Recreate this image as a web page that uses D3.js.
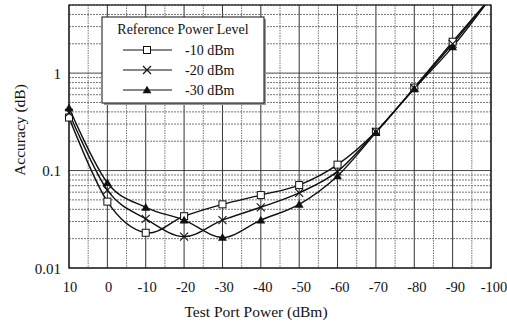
<!DOCTYPE html>
<html>
<head>
<meta charset="utf-8">
<script src="https://cdn.jsdelivr.net/npm/d3@7"></script>
<style>
  body { margin: 0; background: #fff; }
  text { font-family: "Liberation Serif", "Times New Roman", serif; fill: #111; }
</style>
</head>
<body>
<div id="chart"></div>
<script>
// chart values
var powers = [10, 0, -10, -20, -30, -40, -50, -60, -70, -80, -90, -100];
var ref10 = [0.35, 0.048, 0.023, 0.034, 0.045, 0.056, 0.071, 0.115, 0.25, 0.71, 2.1, 6.0];
var ref20 = [0.39, 0.063, 0.032, 0.021, 0.031, 0.042, 0.059, 0.098, 0.25, 0.70, 2.0, 6.0];
var ref30 = [0.44, 0.075, 0.042, 0.031, 0.0206, 0.031, 0.045, 0.088, 0.245, 0.69, 1.86, 6.0];
var seriesNames = ["-10 dBm", "-20 dBm", "-30 dBm"];
var xTicks = [10, 0, -10, -20, -30, -40, -50, -60, -70, -80, -90, -100];
var yTicks = [0.01, 0.1, 1];
var yTickLabels = ["0.01", "0.1", "1"];

var svgWidth = 507;
var svgHeight = 323;

var margin = { top: 5, right: 16, bottom: 55, left: 69 };
var width = svgWidth - margin.left - margin.right;
var height = svgHeight - margin.top - margin.bottom;

var svg = d3.select("#chart")
  .append("svg")
  .attr("width", svgWidth)
  .attr("height", svgHeight);

svg.append("rect").attr("width", svgWidth).attr("height", svgHeight).attr("fill", "#fff");

var chartGroup = svg.append("g")
  .attr("transform", `translate(${margin.left}, ${margin.top})`);

var xScale = d3.scaleLinear().domain([10, -100]).range([0, width]);
// the scanned labels drift a little to the right of their gridlines
var xLabelScale = d3.scaleLinear().domain([10, -100]).range([1, width + 3]);
var yScale = d3.scaleLog().domain([0.01, 5]).range([height, 0]);

// gridlines
var vGrid = d3.range(10, -101, -5);
chartGroup.selectAll(".vgrid")
  .data(vGrid)
  .enter()
  .append("line")
  .attr("x1", d => xScale(d))
  .attr("x2", d => xScale(d))
  .attr("y1", 0)
  .attr("y2", height)
  .attr("stroke", d => d % 10 === 0 ? "#333" : "#666")
  .attr("stroke-width", d => d % 10 === 0 ? 1 : 0.9)
  .attr("stroke-dasharray", d => d % 10 === 0 ? null : "1.5,1");

var hGrid = [];
[0.01, 0.1, 1].forEach(function(dec) {
  for (var k = 1; k <= 9; k++) {
    var v = dec * k;
    if (v <= 5.0001) hGrid.push(+v.toPrecision(3));
  }
});
chartGroup.selectAll(".hgrid")
  .data(hGrid)
  .enter()
  .append("line")
  .attr("x1", 0)
  .attr("x2", width)
  .attr("y1", d => yScale(d))
  .attr("y2", d => yScale(d))
  .attr("stroke", (d, i) => i % 9 === 0 ? "#333" : "#666")
  .attr("stroke-width", 0.9)
  .attr("stroke-dasharray", (d, i) => i % 9 === 0 ? null : "2,1");

// plot border
chartGroup.append("rect")
  .attr("width", width)
  .attr("height", height)
  .attr("fill", "none")
  .attr("stroke", "#111")
  .attr("stroke-width", 1.2);

// tick labels
chartGroup.selectAll(".xlab")
  .data(xTicks)
  .enter()
  .append("text")
  .attr("x", d => xLabelScale(d))
  .attr("y", height + 24)
  .attr("text-anchor", "middle")
  .style("font-size", "14.5px")
  .text(d => d);

chartGroup.selectAll(".ylab")
  .data(yTicks)
  .enter()
  .append("text")
  .attr("x", -8)
  .attr("y", d => yScale(d))
  .attr("dy", "0.38em")
  .attr("text-anchor", "end")
  .style("font-size", "15px")
  .text((d, i) => yTickLabels[i]);

// axis titles
svg.append("text")
  .attr("x", 256)
  .attr("y", 317)
  .attr("text-anchor", "middle")
  .style("font-size", "15.5px")
  .text("Test Port Power (dBm)");

svg.append("text")
  .attr("transform", "translate(25, 130) rotate(-90)")
  .attr("text-anchor", "middle")
  .style("font-size", "15.5px")
  .text("Accuracy (dB)");

// series
var allSeries = [ref10, ref20, ref30];
var markerType = ["square", "cross", "triangle"];

svg.append("clipPath").attr("id", "plotclip")
  .append("rect").attr("width", width).attr("height", height);

var line = d3.line()
  .x((d, i) => xScale(powers[i]))
  .y(d => yScale(d))
  .curve(d3.curveCardinal.tension(0));

function drawMarker(g, type, x, y) {
  if (type === "square") {
    g.append("rect")
      .attr("x", x - 3.5).attr("y", y - 3.5)
      .attr("width", 7).attr("height", 7)
      .attr("fill", "#fff").attr("stroke", "#111").attr("stroke-width", 1);
  } else if (type === "cross") {
    g.append("path")
      .attr("d", `M${x - 4},${y - 4}L${x + 4},${y + 4}M${x - 4},${y + 4}L${x + 4},${y - 4}`)
      .attr("stroke", "#111").attr("stroke-width", 1.1).attr("fill", "none");
  } else {
    g.append("path")
      .attr("d", d3.symbol().type(d3.symbolTriangle).size(34)())
      .attr("transform", `translate(${x}, ${y + 0.8})`)
      .attr("fill", "#111");
  }
}

allSeries.forEach(function(vals, s) {
  chartGroup.append("path")
    .datum(vals)
    .attr("clip-path", "url(#plotclip)")
    .attr("d", line)
    .attr("fill", "none")
    .attr("stroke", "#111")
    .attr("stroke-width", 1.4);
});

allSeries.forEach(function(vals, s) {
  var mg = chartGroup.append("g");
  vals.forEach(function(v, i) {
    if (v <= 5) drawMarker(mg, markerType[s], xScale(powers[i]), yScale(v));
  });
});

// legend
var legend = svg.append("g");
legend.append("rect")
  .attr("x", 104).attr("y", 19).attr("width", 162).attr("height", 86)
  .attr("fill", "#999");
legend.append("rect")
  .attr("x", 102).attr("y", 17).attr("width", 162).attr("height", 86)
  .attr("fill", "#fff").attr("stroke", "#111").attr("stroke-width", 1);
legend.append("text")
  .attr("x", 183).attr("y", 34)
  .attr("text-anchor", "middle")
  .style("font-size", "14px")
  .text("Reference Power Level");

var legendY = [50, 70, 90];
seriesNames.forEach(function(name, s) {
  legend.append("line")
    .attr("x1", 123).attr("x2", 172)
    .attr("y1", legendY[s]).attr("y2", legendY[s])
    .attr("stroke", "#111").attr("stroke-width", 1.2);
  drawMarker(legend, markerType[s], 147, legendY[s]);
  legend.append("text")
    .attr("x", 185).attr("y", legendY[s] + 4.5)
    .style("font-size", "14px")
    .text(name);
});
</script>
</body>
</html>
